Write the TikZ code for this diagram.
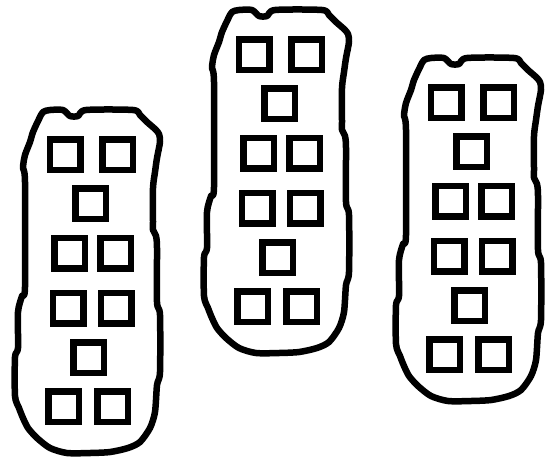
\documentclass[tikz,border=0pt]{standalone}
\usepackage{tikz}
\definecolor{cink}{HTML}{000000}
\tikzset{
  hull/.style={draw=cink,line width=6.5pt,line join=round,fill=white},
  cell/.style={draw=cink,line width=6.5pt,minimum size=30.5pt,inner sep=0pt},
}

\begin{document}
\begin{tikzpicture}[x=1pt,y=-1pt]
  \useasboundingbox (0,0) rectangle (545,461);
  % three wobbly pods, each holding rows of 2,1,2,2,1,2 cells
  \foreach \p/\dx/\dy in {a/0/0, b/189/-100, c/381/-52}{
    \begin{scope}[shift={(\dx,\dy)}]
      \draw[hull] plot[smooth cycle,tension=0.45] coordinates {
        (43,112) (50,110) (63,110) (70,116) (78,116) (86,110) (133,110)
        (140,115) (147,122) (155,129) (159,134) (160,142) (157,158)
        (155,172) (153,188) (153,222) (153,230) (156,236) (157,248)
        (157,302) (160,315) (160,372) (157,385) (155,412) (150,428)
        (140,442) (128,448) (110,452) (90,453) (67,453) (50,448)
        (37,438) (28,428) (23,418) (19,408) (15,396) (15,357) (18,348)
        (18,312) (22,296) (25,287) (25,182) (23,168) (25,155) (30,142)
        (33,132) (39,119)};
      \foreach \n/\cx/\cy in {1/65/154.5, 2/117.5/154.5, 3/90.5/203.5,
          4/69.5/253, 5/115.5/253, 6/68/308, 7/116/308, 8/88.5/357.5,
          9/63.5/406.5, 10/112.5/406.5}
        \node[cell] (\p-\n) at (\cx,\cy) {};
    \end{scope}
  }
\end{tikzpicture}
\end{document}
